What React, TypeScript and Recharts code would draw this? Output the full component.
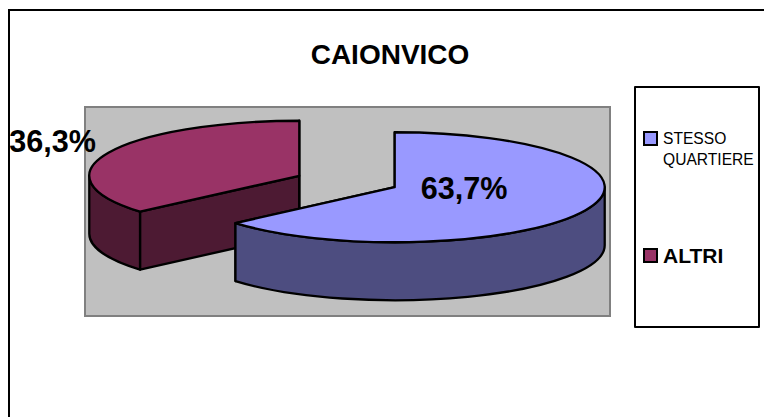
import { PieChart, Pie, Legend } from 'recharts'

const categories = ['STESSO QUARTIERE', 'ALTRI']
const values = [63.7, 36.3]
const labels = ['63,7%', '36,3%']
const topColors = ['#9999FF', '#993366']
const wallColors = ['#4D4D80', '#4D1A33']

// painted back to front: ALTRI first, so the blue slice sits on top of it
const order = [1, 0]
const pieData = order.map(i => ({
  name: categories[i],
  value: values[i],
  label: labels[i],
  fill: topColors[i],
  wall: wallColors[i],
}))

const FONT = '"Liberation Sans", Arial, sans-serif'
const TILT = 55 / 210
const DEPTH = 58
const EXPLODE = 0.25
// clockwise from 12 o'clock for the first category, whatever is painted first
const START = 90 - (360 * values[0]) / (values[0] + values[1])

function rad(a: number) {
  return (a * Math.PI) / 180
}

function PieSlice(props: any) {
  const { cx, cy, outerRadius: rx, startAngle, endAngle, fill, wall } = props
  const ry = rx * TILT
  const mid = rad((startAngle + endAngle) / 2)
  const ox = cx + EXPLODE * rx * Math.cos(mid)
  const oy = cy - EXPLODE * ry * Math.sin(mid)
  const pt = (a: number, dy = 0) => [ox + rx * Math.cos(rad(a)), oy - ry * Math.sin(rad(a)) + dy]
  const hi = Math.max(startAngle, endAngle)
  const lo = Math.min(startAngle, endAngle)
  const [x0, y0] = pt(hi)
  const [x1, y1] = pt(lo)
  const top = `M${ox},${oy}L${x0},${y0}A${rx},${ry} 0 ${hi - lo > 180 ? 1 : 0} 1 ${x1},${y1}Z`
  const face = (a: number) => {
    const [x, y] = pt(a)
    return `M${ox},${oy}L${x},${y}L${x},${y + DEPTH}L${ox},${oy + DEPTH}Z`
  }

  // outer wall only where the rim faces the viewer (angles in the lower half)
  const walls: string[] = []
  for (const k of [-2, -1, 0, 1]) {
    const a = Math.min(hi, 360 * k)
    const b = Math.max(lo, 360 * k - 180)
    if (a > b) {
      const [ax, ay] = pt(a)
      const [bx, by] = pt(b)
      walls.push(
        `M${ax},${ay}A${rx},${ry} 0 0 1 ${bx},${by}L${bx},${by + DEPTH}A${rx},${ry} 0 0 0 ${ax},${ay + DEPTH}Z`,
      )
    }
  }

  const line = { stroke: '#000', strokeWidth: 2.3, strokeLinejoin: 'round' as const }
  return (
    <g>
      <path d={face(startAngle)} fill={wall} {...line} />
      <path d={face(endAngle)} fill={wall} {...line} />
      {walls.map(d => (
        <path key={d} d={d} fill={wall} {...line} />
      ))}
      <path d={top} fill={fill} {...line} />
    </g>
  )
}

function PieLabel(props: any) {
  const { index } = props
  const blue = pieData[index].name === categories[0]
  return (
    <text
      x={blue ? 464 : 52.5}
      y={blue ? 188 : 141}
      textAnchor="middle"
      dominantBaseline="central"
      fontFamily={FONT}
      fontWeight="bold"
      fontSize={30.6}
      fill="#000"
    >
      {pieData[index].label}
    </text>
  )
}

function LegendBox({ payload }: any) {
  const items = [...(payload ?? [])].reverse()
  return (
    <div style={{ position: 'relative', width: 125, height: 240, fontFamily: FONT, color: '#000' }}>
      {items.map((it: any, i: number) => (
        <div key={it.value}>
          <div
            style={{
              position: 'absolute',
              left: 9,
              top: i === 0 ? 45 : 162,
              width: 11,
              height: 11,
              background: it.color,
              border: '2px solid #000',
            }}
          />
          <div
            style={{
              position: 'absolute',
              left: 29,
              top: i === 0 ? 43 : 157,
              width: 96,
              fontSize: i === 0 ? 15.6 : 21,
              lineHeight: i === 0 ? '20.5px' : '26px',
              fontWeight: i === 0 ? 'normal' : 'bold',
            }}
          >
            {it.value}
          </div>
        </div>
      ))}
    </div>
  )
}

export default function App() {
  return (
    <div style={{ position: 'absolute', left: 0, top: 0, width: 764, height: 417, overflow: 'hidden', background: '#fff' }}>
      {/* chart frame, only left and top edges fall inside the picture */}
      <div style={{ position: 'absolute', left: 8, top: 9, width: 800, height: 500, border: '2px solid #000' }} />
      {/* plot area */}
      <div style={{ position: 'absolute', left: 84, top: 106, width: 523, height: 207, background: '#C0C0C0', border: '2px solid #808080' }} />
      {/* legend frame */}
      <div style={{ position: 'absolute', left: 634, top: 86, width: 122, height: 238, border: '2px solid #000', borderRadius: 1 }} />
      <div style={{ position: 'absolute', left: 0, top: 0 }}>
        <PieChart width={764} height={417} margin={{ top: 0, right: 0, bottom: 0, left: 0 }}>
          <text x={390} y={54} textAnchor="middle" dominantBaseline="central" fontFamily={FONT} fontWeight="bold" fontSize={28} fill="#000">
            CAIONVICO
          </text>
          <Pie
            data={pieData}
            dataKey="value"
            nameKey="name"
            cx={347}
            cy={181.5}
            outerRadius={210}
            startAngle={START}
            endAngle={START - 360}
            paddingAngle={0}
            stroke="#000"
            shape={PieSlice}
            label={PieLabel}
            labelLine={false}
            isAnimationActive={false}
          />
          <Legend
            content={LegendBox}
            layout="vertical"
            wrapperStyle={{ position: 'absolute', left: 634, top: 86, width: 125, height: 240 }}
          />
        </PieChart>
      </div>
    </div>
  )
}
